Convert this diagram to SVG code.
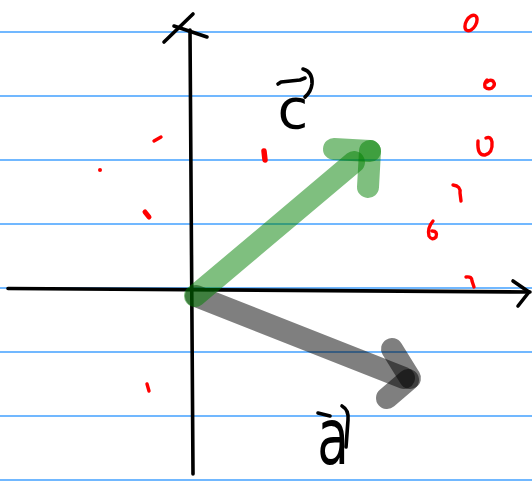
<svg xmlns="http://www.w3.org/2000/svg" width="532" height="483" viewBox="0 0 532 483">
<style>
.rule{stroke:#42a1ff;stroke-width:1.6}
.ink{fill:none;stroke:#000;stroke-width:3.6;stroke-linecap:round;stroke-linejoin:round}
.red{fill:none;stroke:#ff0000;stroke-width:3.4;stroke-linecap:round;stroke-linejoin:round}
.g{fill:none;stroke:rgb(0,128,0);stroke-opacity:0.5;stroke-width:22;stroke-linecap:round}
.k{fill:none;stroke:#000;stroke-opacity:0.5;stroke-width:22;stroke-linecap:round}
.lbl{font-family:"DejaVu Sans",sans-serif;fill:#000}
</style>
<rect width="532" height="483" fill="#fff"/>
<g id="ruled-lines">
<line class="rule" x1="0" y1="32" x2="532" y2="32"/>
<line class="rule" x1="0" y1="96" x2="532" y2="96"/>
<line class="rule" x1="0" y1="160" x2="532" y2="160"/>
<line class="rule" x1="0" y1="224" x2="532" y2="224"/>
<line class="rule" x1="0" y1="288" x2="532" y2="288"/>
<line class="rule" x1="0" y1="352" x2="532" y2="352"/>
<line class="rule" x1="0" y1="416" x2="532" y2="416"/>
<line class="rule" x1="0" y1="480" x2="532" y2="480"/>
</g>
<g id="red-marks">
<ellipse class="red" cx="471" cy="23" rx="5" ry="8.5" transform="rotate(30 471 23)"/>
<path class="red" d="M487,80 Q484,83 485,87 Q488,90 492,88 Q496,85 493,81 Q490,79 487,82"/>
<path class="red" d="M478,141 Q477,156 485,155 Q493,153 492,142 Q491,136 486,138"/>
<path class="red" d="M453,185 Q461,186 460,193 L461,201"/>
<path class="red" d="M433,221 Q427,228 429,236 Q432,241 436,237 Q438,231 432,231"/>
<path class="red" d="M466,277 Q472,276 472,281 L474,287"/>
<path class="red" d="M154,141 L161,137"/>
<circle cx="100" cy="170" r="2" fill="#ff0000"/>
<path class="red" d="M145,212 L149,217" style="stroke-width:5"/>
<path class="red" d="M264,151 L265,160" style="stroke-width:5.5"/>
<path class="red" d="M147,384 L149,391"/>
</g>
<g id="axes">
<path class="ink" d="M8,288.5 L530,292"/>
<path class="ink" d="M513,281 L529,292 L518,306"/>
<path class="ink" d="M190,30 L193,474"/>
<path class="ink" d="M164,42 L193,14"/>
<path class="ink" d="M174,26 L207,37"/>
</g>
<g id="vector-a">
<path class="k" d="M196,296 L404,378"/>
<path class="k" d="M392,349 L410,378"/>
<path class="k" d="M387,398 L408,380"/>
</g>
<g id="vector-c">
<path class="g" d="M195,296 L354,162"/>
<path class="g" d="M334,149 L370,151"/>
<path class="g" d="M370,151 L368,187"/>
</g>
<g id="label-c">
<path class="ink" d="M278,84 L281,82 L300,80 L305,78"/>
<path class="ink" d="M303,69 Q313,72 312,84 Q311,92 305,97"/>
<text class="lbl" x="293" y="128" font-size="56" text-anchor="middle">c</text>
</g>
<g id="label-a">
<path class="ink" d="M318,413 L330,416"/>
<path class="ink" d="M342,406 Q349,410 348,420 L346,447"/>
<text class="lbl" font-size="78" text-anchor="middle" transform="translate(333,464) scale(0.66,1)">a</text>
</g>
</svg>
